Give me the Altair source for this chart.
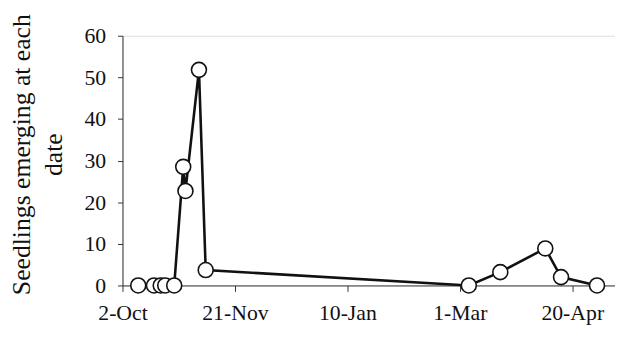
import altair as alt
import pandas as pd

# Emergence dates (season starting 2-Oct-2001) and seedling counts
dates = ["2001-10-09", "2001-10-16", "2001-10-19", "2001-10-21", "2001-10-25",
         "2001-10-29", "2001-10-30", "2001-11-05", "2001-11-08",
         "2002-03-05", "2002-03-19", "2002-04-08", "2002-04-15", "2002-05-01"]
seedlings = [0, 0, 0, 0, 0, 28.5, 22.7, 51.8, 3.7, 0, 3.2, 8.9, 2.0, 0]

start = "2001-10-02"
tick_days = [0, 50, 100, 150, 200]
tick_labels = ["2-Oct", "21-Nov", "10-Jan", "1-Mar", "20-Apr"]

df = pd.DataFrame({"date": pd.to_datetime(dates), "seedlings": seedlings})
df["day"] = (df["date"] - pd.Timestamp(start)).dt.days

label_map = "{" + ",".join(f"'{d}':'{l}'" for d, l in zip(tick_days, tick_labels)) + "}"

FONT = "'Liberation Serif', 'Times New Roman', 'DejaVu Serif', serif"

x = alt.X("day:Q",
          scale=alt.Scale(domain=[0, 219], nice=False, zero=False),
          axis=alt.Axis(values=tick_days, labelExpr=f"{label_map}[datum.value]",
                        title=None, grid=False, tickSize=6, labelPadding=12,
                        labelFontSize=22, labelFont=FONT, labelColor="#111",
                        domainColor="#333", tickColor="#333", labelFlush=False))
y = alt.Y("seedlings:Q",
          scale=alt.Scale(domain=[0, 60], nice=False),
          axis=alt.Axis(values=[0, 10, 20, 30, 40, 50, 60],
                        title=["Seedlings emerging at each", "date"],
                        titleFont=FONT, titleFontSize=26, titleFontWeight="normal",
                        titleColor="#111", titleLineHeight=32,
                        titleX=-89, titleY=120,
                        grid=False, tickSize=5, labelPadding=12,
                        labelFontSize=22, labelFont=FONT, labelColor="#111",
                        domainColor="#333", tickColor="#333"))

line = alt.Chart(df).mark_line(color="#111", strokeWidth=2.6).encode(x=x, y=y)
pts = alt.Chart(df).mark_point(filled=True, fill="white", stroke="#111",
                               strokeWidth=1.6, size=230, opacity=1, shape="circle").encode(x=x, y=y)

chart = (line + pts).properties(
    width=499, height=253,
    autosize=alt.AutoSizeParams(type="none"),
    padding={"left": 116, "top": 26, "right": 0, "bottom": 40},
).configure_view(stroke=None).configure(background="white", font=FONT)

chart.save("out.html", embed_options={"renderer": "svg", "actions": False})
